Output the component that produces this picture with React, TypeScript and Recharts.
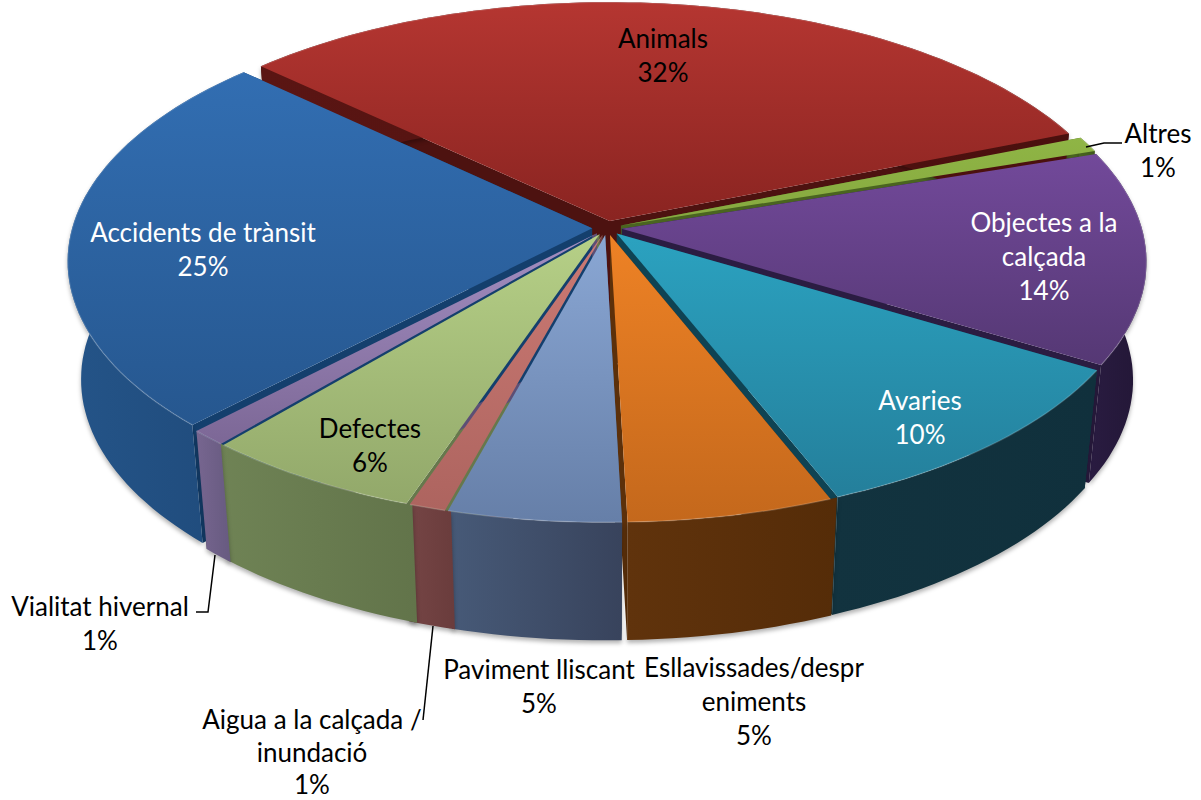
import React from 'react';
import { PieChart, Pie } from 'recharts';

const names = ['Animals','Altres','Objectes a la calçada','Avaries','Esllavissades/despreniments','Paviment lliscant','Aigua a la calçada / inundació','Defectes','Vialitat hivernal','Accidents de trànsit'];
const values = [32,1,13.6,10.4,5.6,4.7,1,6,1,24.7];
const shown = ['32%','1%','14%','10%','5%','5%','1%','6%','1%','25%'];
const labelLines = [['Animals'],['Altres'],['Objectes a la','calçada'],['Avaries'],['Esllavissades/despr','eniments'],['Paviment lliscant'],['Aigua a la calçada /','inundació'],['Defectes'],['Vialitat hivernal'],['Accidents de trànsit']];
const table = names.map((name,i)=>({name,value:values[i]}));

const topA = ['#b53631','#8fb545','#72499a','#2ba2c0','#ee8225','#8aa7d4','#cc7a74','#b6d087','#a48fc2','#326eb2'];
const topB = ['#8a2421','#86a83f','#553874','#247f9b','#c4681c','#667fa8','#ad645f','#92a86a','#7c6796','#26578f'];
const sideA = ['#5a1513','#4e6a22','#2a1c42','#12333f','#60330c','#475a78','#764646','#6f8355','#776690','#245488'];
const sideB = ['#4a100e','#40581c','#221635','#10303c','#552c08','#38435c','#6a3c3c','#62744a','#675a80','#1f4a7a'];
const cutC = ['#4d1210','#4a6420','#2b1c42','#0f4353','#5c300a','#3d4d68','#6e4040','#66784c','#5c4f75','#143f6d'];
const labelPos: [number,number][] = [[663,38],[1158,133],[1044,222],[920,400],[754,667],[539,669],[312,719],[370,428],[100,606],[203,232]];
const labelGap = [34,34,34,34,34,34,32.5,34,34,34];
const leaders: (string|null)[] = [null,'M1086 147 L1104 143 L1122 143',null,null,null,null,'M433 626 L423 720',null,'M215 555 L208 612 L196 612',null];
const wallPadStart = [0,0,0,0,0.7,0,0.6,0.6,0,0];
const wallPadEnd = [0,0,0,0,0,0,0.6,0.8,0,0];

const CX=607, CY=228, R=520, SQ=0.478, K=0.128, EX=0.0285, DEPTH=118, SHRINK=0.025, FS=26;

function proj(a:number, r:number, mid:number, z:number){
  const t=a*Math.PI/180, m=mid*Math.PI/180;
  const u=r*Math.cos(t)+EX*Math.cos(m), v=r*Math.sin(t)+EX*Math.sin(m);
  const w=1+K*v;
  const x=R*u/w, y=-R*SQ*v/w;
  return [CX+x*(1-SHRINK*z), CY+y+DEPTH*z];
}
const P=(p:number[])=>`${p[0].toFixed(1)} ${p[1].toFixed(1)}`;
function arc(a0:number,a1:number,mid:number,z:number){
  const n=Math.max(2,Math.ceil(Math.abs(a1-a0)/1.5)), pts:string[]=[];
  for(let i=0;i<=n;i++) pts.push(P(proj(a0+(a1-a0)*i/n,1,mid,z)));
  return pts;
}

const layer=(kind:'cut'|'wall'|'top')=>(props:any)=>{
  const i=names.indexOf(props.name), a0=props.startAngle, a1=props.endAngle, mid=(a0+a1)/2;
  if(kind==='cut'){
    const c0=proj(0,0,mid,0), c1=proj(0,0,mid,1);
    const e=(a:number)=>`M${P(c0)} L${P(proj(a,1,mid,0))} L${P(proj(a,1,mid,1))} L${P(c1)} Z`;
    return <path d={e(a0)+e(a1)} fill={cutC[i]} />;
  }
  if(kind==='wall'){
    const b0=a0+wallPadStart[i], b1=a1-wallPadEnd[i];
    const d='M'+arc(b0,b1,mid,0).join(' L')+' L'+arc(b1,b0,mid,1).join(' L')+' Z';
    return <g>
      <defs><linearGradient id={`w${i}`} x1="0" x2="1" y1="0" y2="0"><stop offset="0" stopColor={sideA[i]}/><stop offset="1" stopColor={sideB[i]}/></linearGradient></defs>
      <path d={d} fill={`url(#w${i})`} style={{filter:'drop-shadow(0 3px 2px rgba(0,0,0,.3))'}} />
    </g>;
  }
  const d='M'+P(proj(0,0,mid,0))+' L'+arc(a0,a1,mid,0).join(' L')+' Z';
  return <g>
    <defs><linearGradient id={`t${i}`} x1="0" x2="0" y1="0" y2="1"><stop offset="0" stopColor={topA[i]}/><stop offset="1" stopColor={topB[i]}/></linearGradient></defs>
    <path d={d} fill={`url(#t${i})`} />
    <path d={'M'+arc(a0,a1,mid,0).join(' L')} fill="none" stroke="#ffffff" strokeOpacity={0.16} strokeWidth={1.5} />
  </g>;
};

const renderLabel=(p:any)=>{
  const i=names.indexOf(p.name); const [x,y]=labelPos[i];
  const dark=[0,1,4,5,6,7,8].includes(i);
  const lines=[...labelLines[i],shown[i]];
  return <g key={i}>
    {leaders[i] && <path d={leaders[i] as string} fill="none" stroke="#000" strokeWidth={1.5} />}
    {lines.map((t,k)=><text key={k} x={x} y={y+k*labelGap[i]} textAnchor="middle" dominantBaseline="central" fontFamily="Lato" fontSize={FS} fill={dark?'#000':'#fff'}>{t}</text>)}
  </g>;
};

const common={data:table,dataKey:'value',nameKey:'name',cx:CX,cy:CY,outerRadius:R,startAngle:137,endAngle:-223,isAnimationActive:false,stroke:'none'};

export default function App(){
  return <div style={{position:'absolute',left:0,top:0,width:1201,height:800,background:'#fff'}}>
    <PieChart width={1201} height={800} margin={{top:0,left:0,right:0,bottom:0}}>
      <Pie {...common} shape={layer('cut')} />
      <Pie {...common} shape={layer('wall')} />
      <Pie {...common} shape={layer('top')} label={renderLabel} labelLine={false} />
    </PieChart>
  </div>;
}
